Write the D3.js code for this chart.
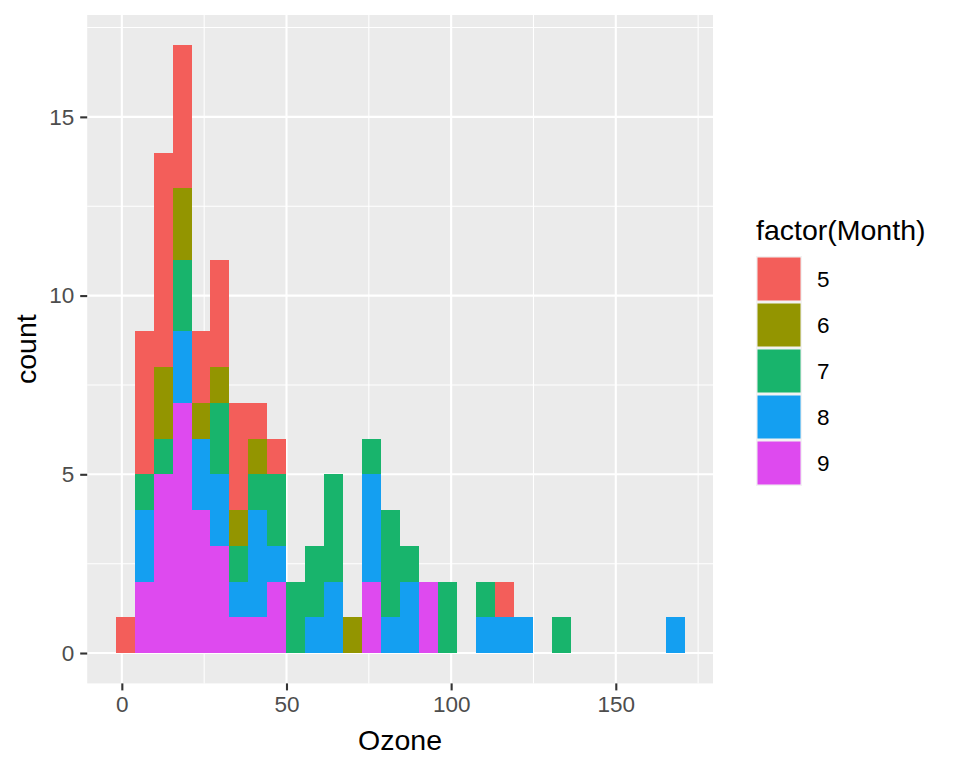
<!DOCTYPE html>
<html>
<head>
<meta charset="utf-8">
<script src="https://cdn.jsdelivr.net/npm/d3@7"></script>
<style>
  body { margin: 0; background: #fff; }
  text { font-family: "Liberation Sans", Arial, sans-serif; }
</style>
</head>
<body>
<div id="chart"></div>
<script>
// histogram of Ozone, 30 bins, counts
const binStart = -1.879;
const binWidth = 5.7586;

const months = ["5", "6", "7", "8", "9"];
const may  = [1,4,6,4,2,3,3,1,1,0, 0,0,0,0,0,0,0,0,0,0, 1,0,0,0,0,0,0,0,0,0];
const jun  = [0,0,2,2,1,1,1,1,0,0, 0,0,1,0,0,0,0,0,0,0, 0,0,0,0,0,0,0,0,0,0];
const jul  = [0,1,1,2,0,2,1,1,2,2, 2,3,0,1,3,1,0,2,0,1, 0,0,0,1,0,0,0,0,0,0];
const aug  = [0,2,0,2,2,2,1,3,1,0, 1,2,0,3,1,2,0,0,0,1, 1,1,0,0,0,0,0,0,0,1];
const sep  = [0,2,5,7,4,3,1,1,2,0, 0,0,0,2,0,0,2,0,0,0, 0,0,0,0,0,0,0,0,0,0];

const xTicks = [0, 50, 100, 150];
const yTicks = [0, 5, 10, 15];

const colors = ["#F35E5A", "#939500", "#18B46C", "#149FF1", "#DE4AEF"];

document.addEventListener("DOMContentLoaded", () => {
    const W = 960, H = 768;
    const panel = { left: 87.2, right: 713, top: 15, bottom: 683.4 };
    const tickFont = "22.5px", titleFont = "28.5px";

    const svg = d3.select("#chart").append("svg")
        .attr("width", W).attr("height", H);

    // one row per bin
    const series = { "5": may, "6": jun, "7": jul, "8": aug, "9": sep };
    const rows = may.map((_, i) => {
        const r = { x0: binStart + i * binWidth, x1: binStart + (i + 1) * binWidth };
        months.forEach(m => { r[m] = series[m][i]; });
        return r;
    });

    const xMin = binStart, xMax = binStart + rows.length * binWidth;
    const xPad = (xMax - xMin) * 0.05;
    const x = d3.scaleLinear().domain([xMin - xPad, xMax + xPad])
        .range([panel.left, panel.right]);

    const yMax = d3.max(rows, r => d3.sum(months, m => r[m]));
    const y = d3.scaleLinear().domain([-yMax * 0.05, yMax * 1.05])
        .range([panel.bottom, panel.top]);

    const color = d3.scaleOrdinal().domain(months).range(colors);

    // panel background
    svg.append("rect")
        .attr("x", panel.left).attr("y", panel.top)
        .attr("width", panel.right - panel.left)
        .attr("height", panel.bottom - panel.top)
        .attr("fill", "#EBEBEB");

    // grid lines
    const xMinor = [25, 75, 125, 175];
    const yMinor = [2.5, 7.5, 12.5, 17.5];
    const grid = svg.append("g");
    xMinor.forEach(v => grid.append("line")
        .attr("x1", x(v)).attr("x2", x(v))
        .attr("y1", panel.top).attr("y2", panel.bottom)
        .attr("stroke", "#fff").attr("stroke-width", 1.05));
    yMinor.forEach(v => grid.append("line")
        .attr("x1", panel.left).attr("x2", panel.right)
        .attr("y1", y(v)).attr("y2", y(v))
        .attr("stroke", "#fff").attr("stroke-width", 1.05));
    xTicks.forEach(v => grid.append("line")
        .attr("x1", x(v)).attr("x2", x(v))
        .attr("y1", panel.top).attr("y2", panel.bottom)
        .attr("stroke", "#fff").attr("stroke-width", 2.1));
    yTicks.forEach(v => grid.append("line")
        .attr("x1", panel.left).attr("x2", panel.right)
        .attr("y1", y(v)).attr("y2", y(v))
        .attr("stroke", "#fff").attr("stroke-width", 2.1));

    // stacked bars, month 9 at the bottom, 5 on top
    const stack = d3.stack().keys(months.slice().reverse());
    const layers = stack(rows);

    svg.append("g")
        .attr("shape-rendering", "crispEdges")
        .selectAll("g")
        .data(layers)
        .join("g")
        .attr("fill", d => color(d.key))
        .selectAll("rect")
        .data(d => d.filter(s => s[1] > s[0]))
        .join("rect")
        .attr("x", d => x(d.data.x0))
        .attr("width", d => x(d.data.x1) - x(d.data.x0))
        .attr("y", d => y(d[1]))
        .attr("height", d => y(d[0]) - y(d[1]));

    // axes
    const xAxis = svg.append("g")
        .attr("transform", "translate(0," + panel.bottom + ")")
        .call(d3.axisBottom(x).tickValues(xTicks).tickSize(7).tickPadding(6));
    const yAxis = svg.append("g")
        .attr("transform", "translate(" + panel.left + ",0)")
        .call(d3.axisLeft(y).tickValues(yTicks).tickSize(7).tickPadding(6));

    [xAxis, yAxis].forEach(a => {
        a.select(".domain").remove();
        a.selectAll(".tick line").attr("stroke", "#333333").attr("stroke-width", 2.1);
        a.selectAll(".tick text")
            .attr("fill", "#4D4D4D")
            .style("font-size", tickFont);
    });

    // axis titles
    svg.append("text")
        .attr("x", (panel.left + panel.right) / 2)
        .attr("y", 750)
        .attr("text-anchor", "middle")
        .style("font-size", titleFont)
        .text("Ozone");

    svg.append("text")
        .attr("transform", "translate(36," + ((panel.top + panel.bottom) / 2) + ") rotate(-90)")
        .attr("text-anchor", "middle")
        .style("font-size", titleFont)
        .text("count");

    // legend
    const legend = svg.append("g").attr("transform", "translate(756,0)");
    legend.append("text")
        .attr("x", 0).attr("y", 240)
        .style("font-size", titleFont)
        .text("factor(Month)");

    const keySize = 46;
    months.forEach((m, i) => {
        const ky = 256 + i * keySize;
        legend.append("rect")
            .attr("x", 0).attr("y", ky)
            .attr("width", keySize).attr("height", keySize)
            .attr("fill", "#F2F2F2");
        legend.append("rect")
            .attr("x", 1.5).attr("y", ky + 1.5)
            .attr("width", keySize - 3).attr("height", keySize - 3)
            .attr("fill", color(m));
        legend.append("text")
            .attr("x", keySize + 15).attr("y", ky + keySize / 2)
            .attr("dy", "0.35em")
            .style("font-size", tickFont)
            .text(m);
    });
});
</script>
</body>
</html>
